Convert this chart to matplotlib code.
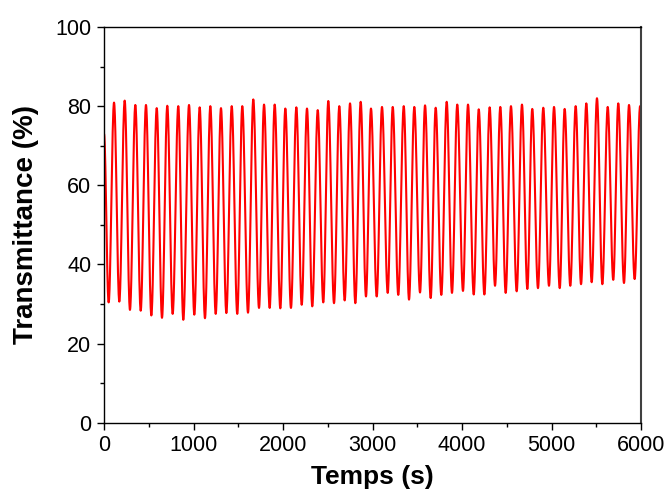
import numpy as np
import matplotlib
matplotlib.use("Agg")
import matplotlib.pyplot as plt
from matplotlib.ticker import MultipleLocator

plt.rcParams["font.family"] = ["Liberation Sans", "DejaVu Sans"]

# values (time in s, transmittance in %)
start_time, start_value = 0, 73.0
end_time, end_value = 6000, 78.0

trough_times = [52, 171, 290, 410, 529, 648, 767, 886, 1009, 1128, 1248, 1367,
                1489, 1609, 1732, 1851, 1970, 2089, 2209, 2327, 2450, 2570, 2689,
                2808, 2927, 3047, 3170, 3288, 3408, 3531, 3650, 3769, 3888, 4011,
                4131, 4250, 4369, 4488, 4611, 4730, 4849, 4972, 5092, 5210, 5330,
                5449, 5568, 5690, 5810, 5929]
trough_values = [30.4, 30.6, 28.5, 28.3, 27.1, 26.5, 27.5, 26.0, 27.3, 26.4, 27.5, 27.7,
                 27.5, 27.8, 29.0, 29.0, 28.9, 29.0, 29.8, 29.4, 30.4, 30.2, 30.9,
                 30.2, 31.9, 31.9, 32.8, 32.3, 31.1, 32.9, 31.5, 32.3, 32.8, 33.3,
                 32.4, 32.4, 34.6, 32.8, 33.2, 33.8, 34.0, 34.6, 34.0, 34.6, 35.0,
                 35.5, 35.0, 36.1, 35.3, 36.3]

peak_times = [112, 231, 350, 469, 589, 707, 830, 950, 1069, 1188, 1307, 1427,
              1545, 1668, 1788, 1907, 2026, 2149, 2268, 2388, 2506, 2629, 2749,
              2868, 2983, 3106, 3226, 3349, 3467, 3587, 3706, 3829, 3947, 4067,
              4187, 4309, 4428, 4547, 4670, 4785, 4908, 5028, 5147, 5270, 5389,
              5508, 5628, 5746, 5866, 5990]
peak_values = [80.9, 81.4, 80.3, 80.3, 79.5, 80.1, 80.0, 80.3, 79.7, 80.0, 79.5, 80.0,
               80.0, 81.7, 80.4, 80.4, 79.4, 79.7, 79.4, 79.0, 81.3, 80.0, 80.7,
               81.1, 79.4, 79.8, 79.8, 80.0, 79.8, 80.2, 79.6, 81.1, 80.4, 80.4,
               79.2, 79.7, 79.8, 80.0, 80.4, 79.3, 79.6, 79.8, 79.3, 80.0, 80.7,
               82.0, 79.8, 80.7, 80.3, 80.0]

# chain the extrema: start -> trough -> peak -> ... -> end
knot_t = [start_time]
knot_v = [start_value]
for tt, tv, pt, pv in zip(trough_times, trough_values, peak_times, peak_values):
    knot_t += [tt, pt]
    knot_v += [tv, pv]
knot_t.append(end_time)
knot_v.append(end_value)

# smooth half-cosine segments between consecutive extrema
t_all, v_all = [], []
for i in range(len(knot_t) - 1):
    s = np.linspace(0, 1, 24, endpoint=False)
    w = (1 - np.cos(np.pi * s)) / 2
    t_all.append(knot_t[i] + (knot_t[i + 1] - knot_t[i]) * s)
    v_all.append(knot_v[i] + (knot_v[i + 1] - knot_v[i]) * w)
t_all.append([knot_t[-1]])
v_all.append([knot_v[-1]])
t_all = np.concatenate(t_all)
v_all = np.concatenate(v_all)

fig = plt.figure(figsize=(6.66, 4.91), dpi=100)
ax = fig.add_axes([104 / 666, 1 - 422.7 / 491, 537 / 666, 395.7 / 491])

ax.plot(t_all, v_all, color="#ff0000", linewidth=1.5)

ax.set_xlim(0, 6000)
ax.set_ylim(0, 100)
ax.xaxis.set_major_locator(MultipleLocator(1000))
ax.xaxis.set_minor_locator(MultipleLocator(500))
ax.yaxis.set_major_locator(MultipleLocator(20))
ax.yaxis.set_minor_locator(MultipleLocator(10))
ax.tick_params(which="major", direction="out", length=5, width=1.0,
               labelsize=15.5, pad=4, top=False, right=False)
ax.tick_params(which="minor", direction="out", length=3, width=1.0,
               top=False, right=False)

for side in ["left", "bottom", "top"]:
    ax.spines[side].set_linewidth(1.0)
ax.spines["right"].set_linewidth(1.5)
ax.spines["right"].set_color("#404040")

ax.set_xlabel("Temps (s)", fontsize=19, fontweight="bold", labelpad=6)
ax.set_ylabel("Transmittance (%)", fontsize=20, fontweight="bold", labelpad=12)

fig.savefig("out.png", dpi=100)
